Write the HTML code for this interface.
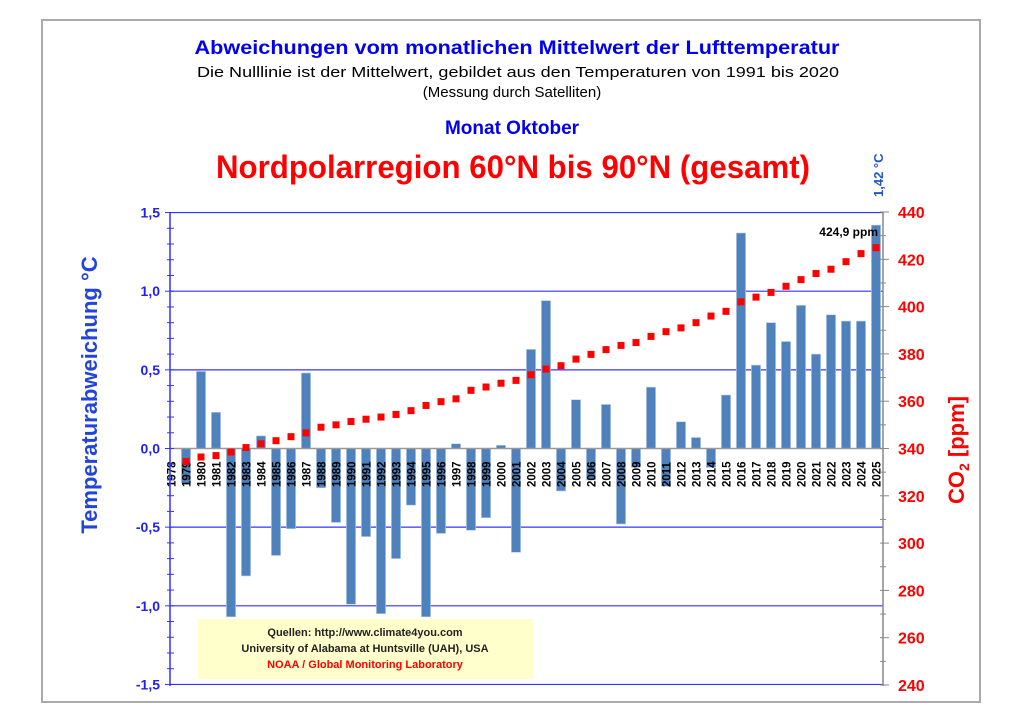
<!DOCTYPE html>
<html><head><meta charset="utf-8">
<style>
html,body{margin:0;padding:0;background:#fff;}
svg{display:block;font-family:"Liberation Sans",Arial,sans-serif;}
</style></head>
<body>
<svg id="s" width="1024" height="724" viewBox="0 0 1024 724" xmlns="http://www.w3.org/2000/svg">
<rect x="0" y="0" width="1024" height="724" fill="#fff"/>
<rect x="42" y="20" width="938" height="682" fill="none" stroke="#aaa" stroke-width="2"/>
<text x="517" y="54" text-anchor="middle" font-size="19" font-weight="bold" fill="#0000ee" textLength="645" lengthAdjust="spacingAndGlyphs">Abweichungen vom monatlichen Mittelwert der Lufttemperatur</text>
<text x="518" y="77" text-anchor="middle" font-size="15" fill="#000" textLength="642" lengthAdjust="spacingAndGlyphs">Die Nulllinie ist der Mittelwert, gebildet aus den Temperaturen von 1991 bis 2020</text>
<text x="512" y="97" text-anchor="middle" font-size="15" fill="#000">(Messung durch Satelliten)</text>
<text x="512" y="134" text-anchor="middle" font-size="19" font-weight="bold" fill="#0000ee">Monat Oktober</text>
<text x="513" y="178" text-anchor="middle" font-size="32" font-weight="bold" fill="#ff0000" textLength="594" lengthAdjust="spacingAndGlyphs">Nordpolarregion 60°N bis 90°N (gesamt)</text>
<text transform="translate(883,197) rotate(-90)" font-size="13" font-weight="bold" fill="#2255cc">1,42 °C</text>
<text transform="translate(97,395) rotate(-90)" text-anchor="middle" font-size="22" font-weight="bold" fill="#2244dd">Temperaturabweichung °C</text>
<text transform="translate(964,450) rotate(-90)" text-anchor="middle" font-size="22" font-weight="bold" fill="#ff0000">CO<tspan font-size="14" dy="5">2</tspan><tspan dy="-5"> [ppm]</tspan></text>
<g id="g"></g>
</svg>
<script>
var g=document.getElementById('g'),h='';
var L=170,R=883,Y0=448.5,S=157.3;
function y(v){return Y0-v*S;}
function cy(c){return 685-(c-240)*2.365;}
[1.5,1,0.5,-0.5,-1,-1.5].forEach(function(v){h+='<line x1="'+L+'" x2="'+R+'" y1="'+y(v)+'" y2="'+y(v)+'" stroke="#3333ff" stroke-width="1.2"/>';});
var T=[null,-0.22,0.49,0.23,-1.07,-0.81,0.08,-0.68,-0.51,0.48,-0.25,-0.47,-0.99,-0.56,-1.05,-0.70,-0.36,-1.07,-0.54,0.03,-0.52,-0.44,0.02,-0.66,0.63,0.94,-0.27,0.31,-0.20,0.28,-0.48,-0.12,0.39,-0.24,0.17,0.07,-0.12,0.34,1.37,0.53,0.80,0.68,0.91,0.60,0.85,0.81,0.81,1.42];
var C=[null,334.5,336.4,337.0,338.5,340.4,342.0,343.3,345.0,346.6,349.0,350.0,351.4,352.4,353.3,354.4,356.0,358.2,359.8,361.0,364.6,366.0,367.6,368.8,371.2,373.6,375.0,377.8,379.8,381.8,383.6,384.8,387.4,389.4,391.0,393.2,396.0,398.0,402.0,404.0,406.0,408.6,411.4,414.0,415.8,419.0,422.4,424.9];
var step=(876-171)/47;
for(var i=0;i<48;i++){
 var x=171+step*i;
 if(T[i]!==null){var v=T[i],a=y(Math.max(v,0)),b=y(Math.min(v,0));
  h+='<rect x="'+(x-4.6)+'" y="'+a+'" width="9.2" height="'+(b-a)+'" fill="#4f81bd" stroke="#b8cce4" stroke-width="0.6"/>';}
}
h+='<line x1="'+L+'" x2="'+R+'" y1="'+Y0+'" y2="'+Y0+'" stroke="#999" stroke-width="1.5"/>';
for(var i=0;i<48;i++){
 var x=171+step*i;
 h+='<text transform="translate('+(x+4.5)+',487) rotate(-90)" font-size="11.5" font-weight="bold" fill="#000">'+(1978+i)+'</text>';
}
for(var i=1;i<48;i++){var x=171+step*i;h+='<rect x="'+(x-3.5)+'" y="'+(cy(C[i])-3.5)+'" width="7" height="7" fill="#ff0000"/>';}
h+='<line x1="'+L+'" x2="'+L+'" y1="212" y2="686" stroke="#3333ff" stroke-width="1.5"/>';
for(var k=-15;k<=15;k++){var yy=y(k/10),w=(k%5==0)?5:3;h+='<line x1="'+(L-w)+'" x2="'+(L+4)+'" y1="'+yy+'" y2="'+yy+'" stroke="#3333ff" stroke-width="1"/>';}
['1,5','1,0','0,5','0,0','-0,5','-1,0','-1,5'].forEach(function(t,j){h+='<text x="160" y="'+(y(1.5-j*0.5)+5)+'" text-anchor="end" font-size="14" font-weight="bold" fill="#2222ee">'+t+'</text>';});
h+='<line x1="'+R+'" x2="'+R+'" y1="212" y2="686" stroke="#888" stroke-width="1.5"/>';
for(var c=240;c<=440;c+=10){var yy=cy(c),w=(c%20==0)?6:3;h+='<line x1="'+(R-3)+'" x2="'+(R+w)+'" y1="'+yy+'" y2="'+yy+'" stroke="#888" stroke-width="1"/>';
 if(c%20==0)h+='<text x="898" y="'+(yy+6)+'" font-size="16" font-weight="bold" fill="#ff0000">'+c+'</text>';}
h+='<text x="878" y="236" text-anchor="end" font-size="12" font-weight="bold" fill="#000">424,9 ppm</text>';
h+='<rect x="198" y="619" width="335" height="60" fill="#ffffcc"/>';
h+='<text x="365" y="636" text-anchor="middle" font-size="11" font-weight="bold" fill="#222">Quellen: http://www.climate4you.com</text>';
h+='<text x="365" y="652" text-anchor="middle" font-size="11" font-weight="bold" fill="#222">University of Alabama at Huntsville (UAH), USA</text>';
h+='<text x="365" y="668" text-anchor="middle" font-size="11" font-weight="bold" fill="#ff0000">NOAA / Global Monitoring Laboratory</text>';
g.innerHTML=h;
</script>
</body></html>
